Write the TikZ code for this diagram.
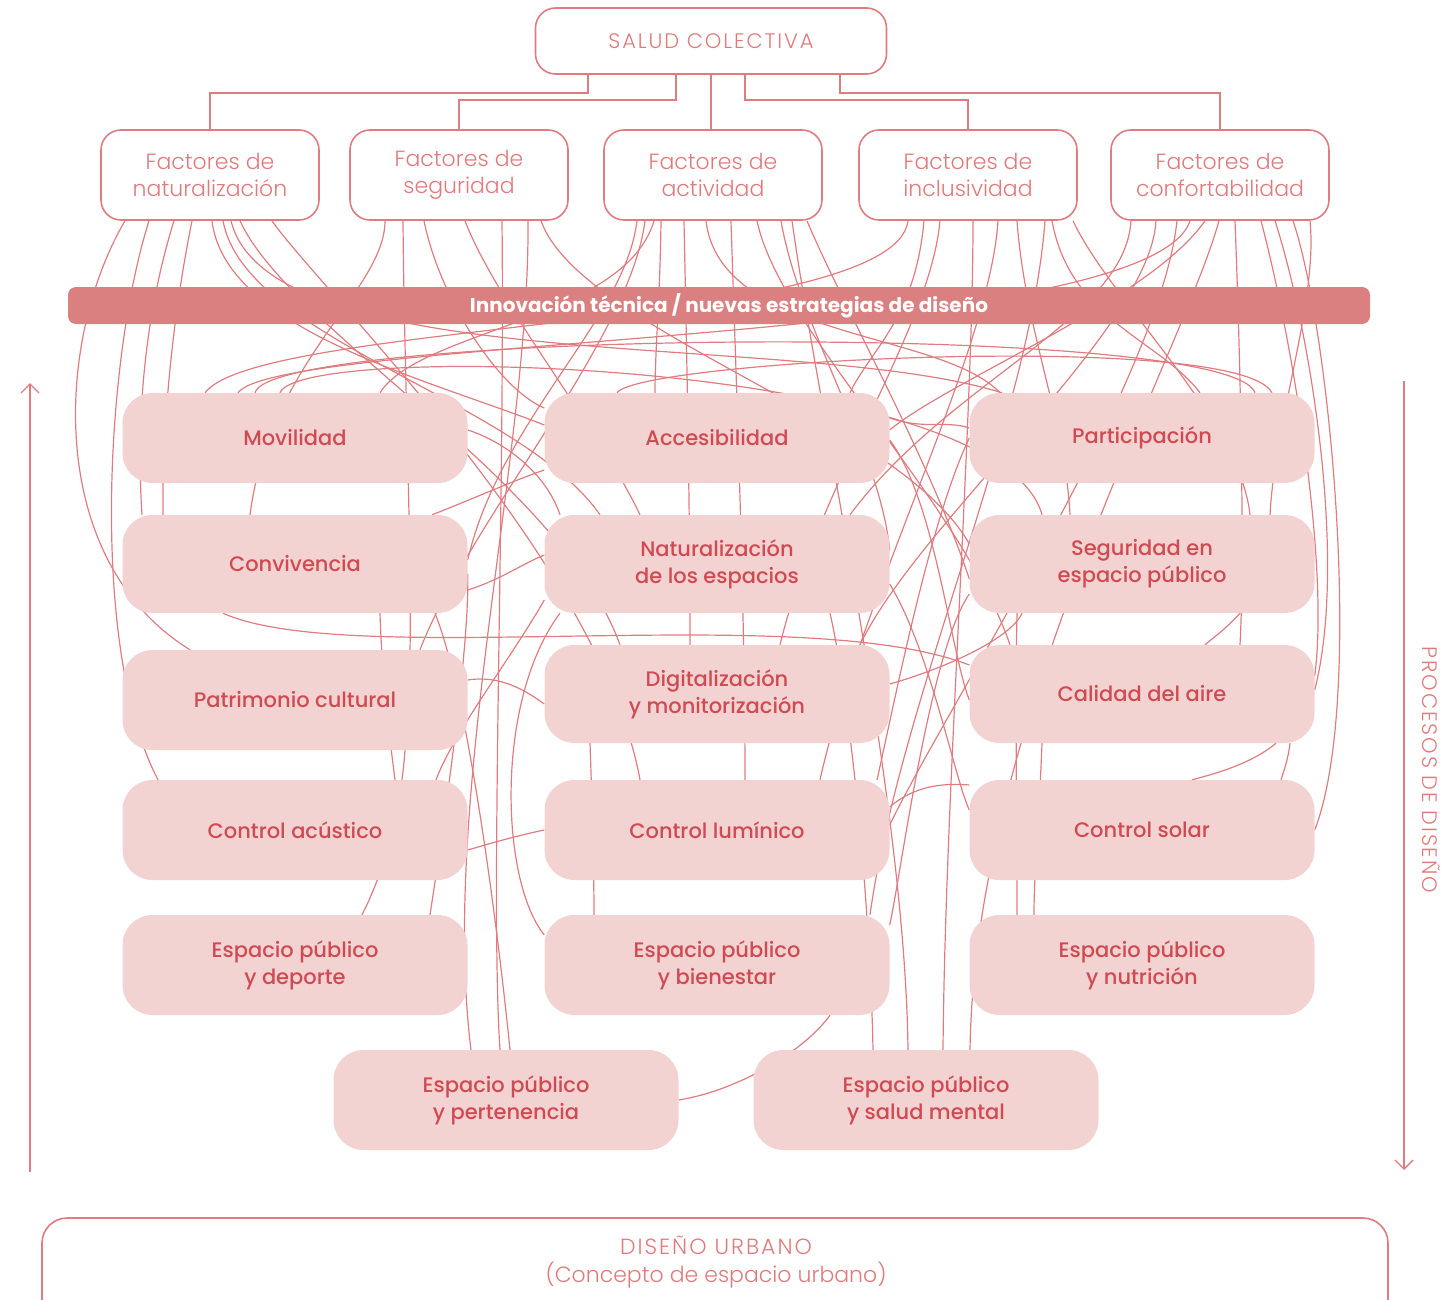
\documentclass[tikz,border=0pt]{standalone}
\usepackage{fontspec}
\setmainfont{Poppins}
\newfontfamily\lightf{Poppins Light}
\newfontfamily\lightsp[LetterSpace=9]{Poppins Light}
\newfontfamily\medf{Poppins Medium}
\newfontfamily\heavyf{Poppins Bold}
\usetikzlibrary{arrows.meta}
\pgfdeclarelayer{bg}
\pgfsetlayers{bg,main}
\definecolor{lc}{RGB}{224,124,128}
\definecolor{ftc}{RGB}{226,122,124}
\definecolor{nfill}{RGB}{243,210,210}
\definecolor{ntext}{RGB}{208,74,82}
\definecolor{bandc}{RGB}{218,128,128}
\begin{document}
\begin{tikzpicture}[x=1pt,y=-1pt,
 obox/.style={draw=lc, line width=1.6pt, fill=white, rounded corners=20pt, align=center, text=ftc, inner sep=0pt},
 fbox/.style={obox, minimum width=218pt, minimum height=90pt, font=\lightf\fontsize{22}{27}\selectfont},
 gbox/.style={fill=nfill, rounded corners=30pt, minimum width=345pt, minimum height=98pt, align=center, text=ntext, inner sep=0pt, font=\medf\fontsize{21}{27}\selectfont},
 lk/.style={draw=lc, line width=1.2pt},
 tree/.style={draw=lc, line width=1.6pt},
 arr/.style={draw=lc, line width=1.4pt, -{Straight Barb[length=9pt,width=18pt]}},
 ltext/.style={text=ftc, font=\lightf\fontsize{22}{28}\selectfont, align=center, inner sep=0pt}]
\useasboundingbox (0,0) rectangle (1456,1300);

% top
\node[obox, minimum width=351pt, minimum height=66pt, font=\lightsp\fontsize{21}{24}\selectfont] (sc) at (711,41) {SALUD COLECTIVA};
\node[fbox] (f1) at (210,175) {Factores de\\naturalización};
\node[fbox] (f2) at (459,175) {Factores de\\seguridad};
\node[fbox] (f3) at (713,175) {Factores de\\actividad};
\node[fbox] (f4) at (968,175) {Factores de\\inclusividad};
\node[fbox] (f5) at (1220,175) {Factores de\\confortabilidad};

\draw[tree] ([xshift=-123pt]sc.south) -- ++(0,18) -| (f1.north);
\draw[tree] ([xshift=-35pt]sc.south) -- ++(0,25) -| (f2.north);
\draw[tree] (sc.south) -- (sc.south |- f3.north);
\draw[tree] ([xshift=34pt]sc.south) -- ++(0,25) -| (f4.north);
\draw[tree] ([xshift=129pt]sc.south) -- ++(0,18) -| (f5.north);

\node[fill=bandc, rounded corners=8pt, minimum width=1302pt, minimum height=37pt, inner sep=0pt, text=white, font=\heavyf\fontsize{20}{22}\selectfont] (band) at (719,305.5) {\hspace*{20pt}Innovación técnica / nuevas estrategias de diseño};

% grid
\node[gbox, minimum height=90pt] (mov) at (295,438) {Movilidad};
\node[gbox, minimum height=90pt] (acc) at (717,438) {Accesibilidad};
\node[gbox, minimum height=90pt] (par) at (1142,438) {Participación};
\node[gbox] (con) at (295,564) {Convivencia};
\node[gbox] (nat) at (717,564) {Naturalización\\de los espacios};
\node[gbox] (seg) at (1142,564) {Seguridad en\\espacio público};
\node[gbox, minimum height=100pt] (pat) at (295,700) {Patrimonio cultural};
\node[gbox] (dig) at (717,694) {Digitalización\\y monitorización};
\node[gbox] (cal) at (1142,694) {Calidad del aire};
\node[gbox, minimum height=100pt] (aco) at (295,830) {Control acústico};
\node[gbox, minimum height=100pt] (lum) at (717,830) {Control lumínico};
\node[gbox, minimum height=100pt] (sol) at (1142,830) {Control solar};
\node[gbox, minimum height=100pt] (dep) at (295,965) {Espacio público\\y deporte};
\node[gbox, minimum height=100pt] (bie) at (717,965) {Espacio público\\y bienestar};
\node[gbox, minimum height=100pt] (nut) at (1142,965) {Espacio público\\y nutrición};
\node[gbox, minimum height=100pt] (per) at (506,1100) {Espacio público\\y pertenencia};
\node[gbox, minimum height=100pt] (sm) at (926,1100) {Espacio público\\y salud mental};

\begin{pgfonlayer}{bg}
% factor 1
\draw[lk] ([xshift=-85pt]f1.south) .. controls (55,340) and (45,560) .. ([xshift=-105pt]pat.north);
\draw[lk] ([xshift=-61pt]f1.south) .. controls (105,360) and (90,650) .. ([xshift=-137pt]aco.north);
\draw[lk] ([xshift=-36pt]f1.south) .. controls (140,330) and (137,440) .. ([xshift=-153pt]con.north);
\draw[lk] ([xshift=-18pt]f1.south) .. controls (170,330) and (162,440) .. ([xshift=-132pt]con.north);
\draw[lk] ([xshift=2pt]f1.south) .. controls (225,330) and (430,380) .. ([yshift=13pt]acc.west);
\draw[lk] ([xshift=13pt]f1.south) .. controls (245,340) and (520,400) .. ([xshift=-117pt]nat.north);
\draw[lk] ([xshift=21pt]f1.south) .. controls (270,380) and (800,330) .. ([xshift=-140pt]par.north);
\draw[lk] ([xshift=30pt]f1.south) .. controls (290,330) and (560,480) .. ([xshift=-97pt]dig.north);
\draw[lk] ([xshift=62pt]f1.south) .. controls (320,290) and (600,560) .. ([xshift=-77pt]lum.north);
% factor 2
\draw[lk] ([xshift=-74pt]f2.south) .. controls (385,290) and (270,360) .. ([xshift=-45pt]con.north);
\draw[lk] ([xshift=-56pt]f2.south) .. controls (404,360) and (412,560) .. ([xshift=115pt]pat.north);
\draw[lk] ([xshift=-35pt]f2.south) .. controls (440,300) and (500,390) .. ([yshift=30pt]acc.west);
\draw[lk] ([xshift=6pt]f2.south) .. controls (495,300) and (600,430) .. ([xshift=-77pt]nat.north);
\draw[lk] ([xshift=43pt]f2.south) .. controls (505,500) and (490,900) .. ([xshift=-6pt]per.north);
\draw[lk] ([xshift=69pt]f2.south) .. controls (530,450) and (440,800) .. ([xshift=-35pt]per.north);
\draw[lk] ([xshift=82pt]f2.south) .. controls (580,330) and (900,420) .. ([yshift=20pt]seg.west);
% factor 3
\draw[lk] ([xshift=-76pt]f3.south) .. controls (625,320) and (500,420) .. ([yshift=4pt]con.east);
\draw[lk] ([xshift=-68pt]f3.south) .. controls (630,340) and (470,520) .. ([xshift=125pt]pat.north);
\draw[lk] ([xshift=-59pt]f3.south) .. controls (625,320) and (420,330) .. ([xshift=85pt]mov.north);
\draw[lk] ([xshift=-52pt]f3.south) .. controls (660,300) and (655,350) .. ([xshift=-62pt]acc.north);
\draw[lk] ([xshift=-29pt]f3.south) .. controls (686,320) and (690,500) .. ([xshift=-27pt]dig.north);
\draw[lk] ([xshift=-7pt]f3.south) .. controls (720,340) and (940,330) .. ([xshift=-142pt]par.north);
\draw[lk] ([xshift=18pt]f3.south) .. controls (735,350) and (745,600) .. ([xshift=28pt]lum.north);
\draw[lk] ([xshift=44pt]f3.south) .. controls (780,330) and (960,500) .. ([xshift=-132pt]cal.north);
\draw[lk] ([xshift=68pt]f3.south) .. controls (800,330) and (880,450) .. ([yshift=14pt]nat.east);
\draw[lk] ([xshift=79pt]f3.south) .. controls (820,420) and (905,800) .. ([xshift=-18pt]sm.north);
\draw[lk] ([xshift=94pt]f3.south) .. controls (840,300) and (930,460) .. ([yshift=-15pt]seg.west);
% factor 4
\draw[lk] ([xshift=-60pt]f4.south) .. controls (895,330) and (260,320) .. ([xshift=-90pt]mov.north);
\draw[lk] ([xshift=-44pt]f4.south) .. controls (915,320) and (870,350) .. ([xshift=133pt]acc.north);
\draw[lk] ([xshift=-28pt]f4.south) .. controls (930,330) and (820,480) .. ([xshift=63pt]dig.north);
\draw[lk] ([xshift=5pt]f4.south) .. controls (973,420) and (945,800) .. ([xshift=17pt]sm.north);
\draw[lk] ([xshift=30pt]f4.south) .. controls (990,350) and (860,600) .. ([xshift=103pt]lum.north);
\draw[lk] ([xshift=49pt]f4.south) .. controls (1025,330) and (1065,420) .. ([xshift=-72pt]seg.north);
\draw[lk] ([xshift=77pt]f4.south) .. controls (1030,420) and (900,700) .. ([xshift=153pt]bie.north);
\draw[lk] ([xshift=84pt]f4.south) .. controls (1070,320) and (1160,340) .. ([xshift=58pt]par.north);
\draw[lk] ([xshift=105pt]f4.south) .. controls (1110,300) and (1240,420) .. ([xshift=108pt]seg.north);
% factor 5
\draw[lk] ([xshift=-89pt]f5.south) .. controls (1125,320) and (950,380) .. ([xshift=133pt]nat.north);
\draw[lk] ([xshift=-64pt]f5.south) .. controls (1150,330) and (920,520) .. ([xshift=143pt]dig.north);
\draw[lk] ([xshift=-43pt]f5.south) .. controls (1160,380) and (950,700) .. ([yshift=5pt]lum.east);
\draw[lk] ([xshift=-30pt]f5.south) .. controls (1150,345) and (280,335) .. ([xshift=-57pt]mov.north);
\draw[lk] ([xshift=-15pt]f5.south) .. controls (1150,300) and (950,380) .. ([yshift=8pt]acc.east);
\draw[lk] ([xshift=-1pt]f5.south) .. controls (1180,360) and (975,720) .. ([xshift=44pt]sm.north);
\draw[lk] ([xshift=15pt]f5.south) .. controls (1240,350) and (1245,550) .. ([xshift=98pt]cal.north);
\draw[lk] ([xshift=41pt]f5.south) .. controls (1290,330) and (1330,560) .. ([yshift=18pt]cal.east);
\draw[lk] ([xshift=55pt]f5.south) .. controls (1310,330) and (1348,560) .. ([yshift=4pt]cal.east);
\draw[lk] ([xshift=73pt]f5.south) .. controls (1330,330) and (1365,700) .. (sol.east);
\draw[lk] ([xshift=90pt]f5.south) .. controls (1318,300) and (1275,420) .. ([xshift=128pt]seg.north);
% arches under the band
\draw[lk] ([xshift=-40pt]mov.north) .. controls (270,330) and (1230,320) .. ([xshift=113pt]par.north);
\draw[lk] ([xshift=-100pt]acc.north) .. controls (640,360) and (1240,330) .. ([xshift=130pt]par.north);
\draw[lk] ([xshift=-15pt]mov.north) .. controls (300,340) and (1000,360) .. ([xshift=-100pt]seg.north);
% links between processes
\draw[lk] ([yshift=-26pt]con.east) .. controls (500,580) and (520,565) .. ([yshift=9pt]nat.west);
\draw[lk] ([yshift=-20pt]aco.east) .. controls (495,842) and (520,835) .. (lum.west);
\draw[lk] ([yshift=20pt]pat.east) .. controls (500,675) and (525,690) .. ([yshift=-10pt]dig.west);
\draw[lk] (per.east) .. controls (740,1090) and (805,1050) .. ([xshift=113pt]bie.south);
\draw[lk] ([xshift=67pt]dep.north) .. controls (380,880) and (400,820) .. ([xshift=110pt]pat.south);
\draw[lk] ([xshift=4pt]per.north) .. controls (500,950) and (470,700) .. ([xshift=140pt]con.south);
\draw[lk] ([yshift=23pt]lum.east) .. controls (915,785) and (945,783) .. ([yshift=45pt]sol.west);
\draw[lk] ([xshift=134pt]cal.south) .. controls (1250,765) and (1210,775) .. ([xshift=50pt]sol.north);
\draw[lk] ([xshift=-53pt]sm.north) .. controls (870,900) and (850,700) .. ([xshift=113pt]nat.south);
\draw[lk] ([yshift=-36pt]nat.west) .. controls (510,660) and (455,730) .. ([xshift=141pt]aco.north);
\draw[lk] ([xshift=-157pt]nat.south) .. controls (495,700) and (500,880) .. ([yshift=30pt]bie.west);
\draw[lk] ([xshift=-127pt]dig.south) .. controls (592,800) and (594,870) .. ([xshift=-123pt]bie.north);
\draw[lk] ([xshift=-72pt]con.south) .. controls (350,670) and (800,600) .. ([yshift=29pt]cal.west);
\draw[lk] ([yshift=-2pt]acc.east) .. controls (935,500) and (950,650) .. ([yshift=-6pt]cal.west);
\draw[lk] (par.west) .. controls (930,520) and (895,700) .. ([xshift=160pt]lum.north);
\draw[lk] ([yshift=-30pt]seg.west) .. controls (930,650) and (900,880) .. ([yshift=40pt]bie.east);
\draw[lk] ([yshift=-20pt]nat.east) .. controls (930,650) and (955,780) .. ([yshift=20pt]sol.west);
\draw[lk] ([yshift=10pt]dig.east) .. controls (940,670) and (1010,640) .. ([xshift=-120pt]seg.south);
\draw[lk] ([yshift=20pt]acc.east) .. controls (925,430) and (945,420) .. ([yshift=10pt]par.west);
\draw[lk] ([yshift=8pt]mov.east) .. controls (500,440) and (545,470) .. ([xshift=-157pt]nat.north);
\draw[lk] ([xshift=137pt]con.north) .. controls (470,500) and (515,480) .. ([yshift=-32pt]acc.west);
\draw[lk] ([xshift=85pt]con.south) .. controls (382,680) and (390,740) .. ([xshift=100pt]aco.north);
\draw[lk] ([xshift=135pt]dep.north) .. controls (440,850) and (470,650) .. ([yshift=-10pt]con.east);
\draw[lk] ([xshift=-125pt]seg.south) .. controls (1015,700) and (1017,850) .. ([xshift=-125pt]nut.north);
\draw[lk] ([xshift=-100pt]cal.south) .. controls (1040,800) and (1034,870) .. ([xshift=-108pt]nut.north);
\draw[lk] ([xshift=98pt]seg.south) .. controls (1225,630) and (1210,640) .. ([xshift=63pt]cal.north);
\draw[lk] ([xshift=148pt]cal.south) .. controls (1288,760) and (1284,770) .. ([xshift=139pt]sol.north);
\end{pgfonlayer}

% side arrows and labels
\coordinate (lb) at (30,1172);
\coordinate (lt) at (30,383);
\draw[arr] (lb) -- (lt);
\coordinate (rt) at (1404,381);
\coordinate (rb) at (1404,1170);
\draw[arr] (rt) -- (rb);
\node[ltext, rotate=-90, font=\lightsp\fontsize{21}{24}\selectfont] (proc) at (1431,770) {PROCESOS DE DISEÑO};

% bottom
\node[obox, minimum width=1346pt, minimum height=140pt, rounded corners=25pt] (dub) at (715,1288) {};
\node[ltext] (dut) at (716,1262) {{\lightsp DISEÑO URBANO}\\(Concepto de espacio urbano)};
\end{tikzpicture}
\end{document}
